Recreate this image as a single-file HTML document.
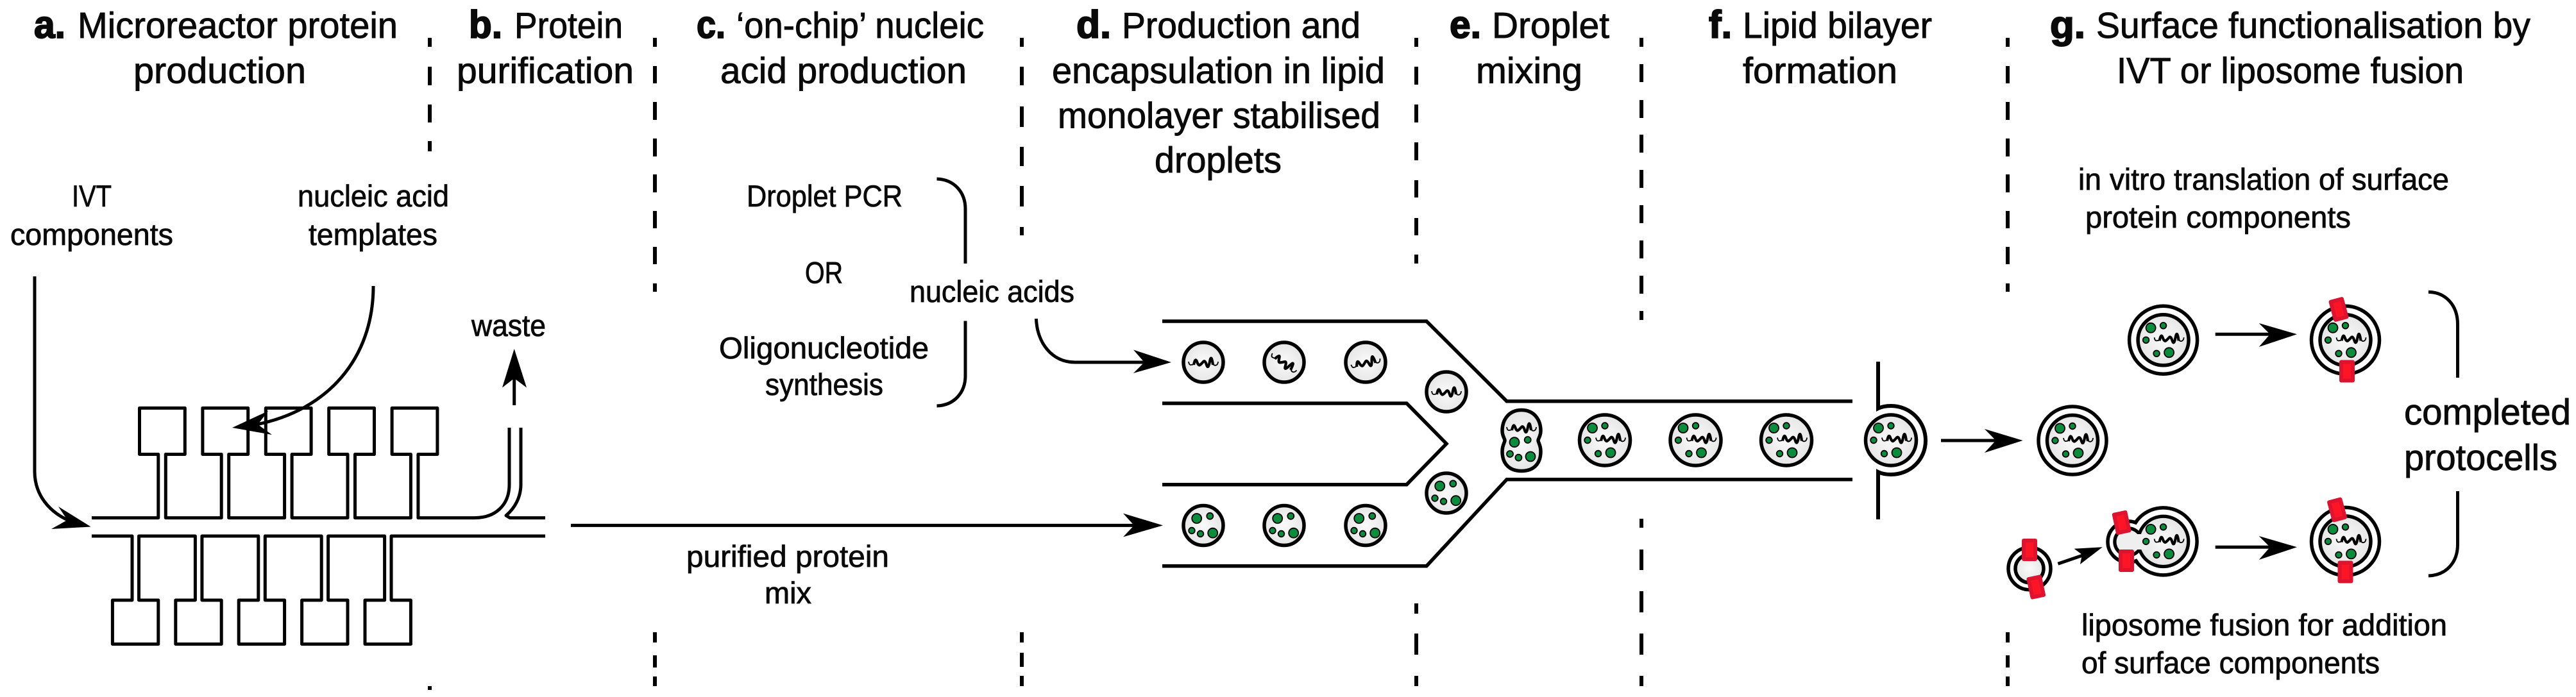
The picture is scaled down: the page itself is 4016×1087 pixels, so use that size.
<!DOCTYPE html>
<html>
<head>
<meta charset="utf-8">
<title>Protocell production workflow</title>
<style>
html,body{margin:0;padding:0;background:#fff;width:4016px;height:1087px;overflow:hidden}
svg{display:block}
text{font-family:"Liberation Sans",sans-serif;fill:#0a0a0a;stroke:#0a0a0a;stroke-width:.9}
.t{font-size:57px}
.b{font-size:60px;font-weight:bold;stroke-width:2}
.s{font-size:47px;stroke-width:.8}
.l{fill:none;stroke:#000;stroke-width:5.5;stroke-linejoin:miter}
.m{fill:none;stroke:#000;stroke-width:5;stroke-linejoin:round}
.a{fill:none;stroke:#000;stroke-width:5}
.d{fill:url(#g);stroke:#000;stroke-width:5.5}
.e{fill:#fff;stroke:#000;stroke-width:5.5}
.h{fill:#000;stroke:none}
.p{fill:#0a8c3c;stroke:#000;stroke-width:1.8}
.w{fill:none;stroke:#000;stroke-width:4.2}
.x{fill:none;stroke:#000;stroke-width:1.8}
.r{fill:#fd1525;stroke:#dc1430;stroke-width:6;stroke-linejoin:round}
</style>
</head>
<body>
<svg xmlns="http://www.w3.org/2000/svg" width="4016" height="1087" viewBox="0 0 4016 1087">
<defs>
<radialGradient id="g" cx="50%" cy="50%" r="50%">
<stop offset="0" stop-color="#fafafa"/><stop offset="1" stop-color="#e6e6e6"/>
</radialGradient>
<g id="wave"><path class="w" d="M-15,4 q2.5,-12 5,-5 t5,5 t5,-5 t5,5 t5,-5 t5,5"/><path class="x" d="M-23,-1 q1,6 4,5 q2,0 4,-1 M15,3 q3,3 6,1 q2,-2 2,-5"/></g>
<g id="dots">
<circle class="p" cx="-10.3" cy="-11" r="7.5"/><circle class="p" cx="10.3" cy="-14.7" r="5"/>
<circle class="p" cx="-18" cy="8" r="4.8"/><circle class="p" cx="-4.5" cy="13" r="4.8"/>
<circle class="p" cx="14.7" cy="11.7" r="7.5"/>
</g>
<g id="big">
<circle class="p" cx="-19.5" cy="-19" r="7.5"/><circle class="p" cx="0" cy="-22.5" r="4.8"/>
<circle class="p" cx="-27" cy="0" r="4.8"/><circle class="p" cx="-10.5" cy="21" r="4.8"/>
<circle class="p" cx="9" cy="19.5" r="7.5"/>
<use href="#wave" x="9" y="-3"/>
</g>
<g id="droplet"><circle class="d" r="39.5"/><use href="#big"/></g>
<g id="vesicle"><circle class="e" r="53"/><use href="#droplet"/></g>
</defs>

<!-- divider dashes -->
<path stroke="#000" stroke-width="6" fill="none" d="
M670,59V73M670,104V133M670,163V191M670,220V236M670,1070V1076
M1021,59V73M1021,103V130M1021,159V187M1021,216V244M1021,272V300M1021,329V356M1021,385V412M1021,442V455M1021,986V1002M1021,1022V1041M1021,1055V1070
M1593,59V73M1593,104V133M1593,166V198M1593,229V259M1593,290V322M1593,354V367M1593,986V1002M1593,1018V1040M1593,1054V1070
M2208,59V73M2208,104V132M2208,163V191M2208,222V250M2208,281V308M2208,340V367M2208,397V411M2208,941V957M2208,988V1021M2208,1054V1070
M2559,59V73M2559,100V128M2559,156V184M2559,210V238M2559,265V293M2559,320V348M2559,375V403M2559,430V458M2559,485V499M2559,809V823M2559,857V889M2559,922V955M2559,988V1021M2559,1054V1070
M3130,59V73M3130,103V130M3130,159V187M3130,216V244M3130,272V300M3130,329V356M3130,385V412M3130,442V455M3130,986V1002M3130,1022V1041M3130,1055V1070"/>

<!-- titles -->
<text class="b" x="53" y="59" textLength="49" lengthAdjust="spacingAndGlyphs">a.</text>
<text class="t" x="121" y="59" textLength="499" lengthAdjust="spacingAndGlyphs">Microreactor protein</text>
<text class="t" x="208" y="129.5" textLength="269" lengthAdjust="spacingAndGlyphs">production</text>
<text class="b" x="731" y="59" textLength="52" lengthAdjust="spacingAndGlyphs">b.</text>
<text class="t" x="802" y="59" textLength="169" lengthAdjust="spacingAndGlyphs">Protein</text>
<text class="t" x="712" y="129.5" textLength="276" lengthAdjust="spacingAndGlyphs">purification</text>
<text class="b" x="1086" y="59" textLength="45" lengthAdjust="spacingAndGlyphs">c.</text>
<text class="t" x="1148" y="59" textLength="386" lengthAdjust="spacingAndGlyphs">‘on-chip’ nucleic</text>
<text class="t" x="1123" y="129.5" textLength="384" lengthAdjust="spacingAndGlyphs">acid production</text>
<text class="b" x="1678" y="59" textLength="54" lengthAdjust="spacingAndGlyphs">d.</text>
<text class="t" x="1749" y="59" textLength="372" lengthAdjust="spacingAndGlyphs">Production and</text>
<text class="t" x="1640" y="129.5" textLength="519" lengthAdjust="spacingAndGlyphs">encapsulation in lipid</text>
<text class="t" x="1649" y="199.5" textLength="503" lengthAdjust="spacingAndGlyphs">monolayer stabilised</text>
<text class="t" x="1800" y="269" textLength="198" lengthAdjust="spacingAndGlyphs">droplets</text>
<text class="b" x="2260" y="59" textLength="49" lengthAdjust="spacingAndGlyphs">e.</text>
<text class="t" x="2326" y="59" textLength="183" lengthAdjust="spacingAndGlyphs">Droplet</text>
<text class="t" x="2301" y="129.5" textLength="166" lengthAdjust="spacingAndGlyphs">mixing</text>
<text class="b" x="2664" y="59" textLength="36" lengthAdjust="spacingAndGlyphs">f.</text>
<text class="t" x="2717" y="59" textLength="295" lengthAdjust="spacingAndGlyphs">Lipid bilayer</text>
<text class="t" x="2717" y="129.5" textLength="241" lengthAdjust="spacingAndGlyphs">formation</text>
<text class="b" x="3196" y="59" textLength="55" lengthAdjust="spacingAndGlyphs">g.</text>
<text class="t" x="3268" y="59" textLength="677" lengthAdjust="spacingAndGlyphs">Surface functionalisation by</text>
<text class="t" x="3300" y="129.5" textLength="541" lengthAdjust="spacingAndGlyphs">IVT or liposome fusion</text>

<!-- labels -->
<text class="s" x="112" y="322" textLength="62" lengthAdjust="spacingAndGlyphs">IVT</text>
<text class="s" x="16" y="382" textLength="254" lengthAdjust="spacingAndGlyphs">components</text>
<text class="s" x="464" y="322" textLength="236" lengthAdjust="spacingAndGlyphs">nucleic acid</text>
<text class="s" x="481" y="382" textLength="201" lengthAdjust="spacingAndGlyphs">templates</text>
<text class="s" x="735" y="524" textLength="116" lengthAdjust="spacingAndGlyphs">waste</text>
<text class="s" x="1164" y="322" textLength="243" lengthAdjust="spacingAndGlyphs">Droplet PCR</text>
<text class="s" x="1255" y="441.5" textLength="59" lengthAdjust="spacingAndGlyphs">OR</text>
<text class="s" x="1418" y="471" textLength="257" lengthAdjust="spacingAndGlyphs">nucleic acids</text>
<text class="s" x="1121" y="559" textLength="327" lengthAdjust="spacingAndGlyphs">Oligonucleotide</text>
<text class="s" x="1193" y="616" textLength="184" lengthAdjust="spacingAndGlyphs">synthesis</text>
<text class="s" x="1070" y="884" textLength="316" lengthAdjust="spacingAndGlyphs">purified protein</text>
<text class="s" x="1192" y="941" textLength="73" lengthAdjust="spacingAndGlyphs">mix</text>
<text class="s" x="3240" y="296" textLength="578" lengthAdjust="spacingAndGlyphs">in vitro translation of surface</text>
<text class="s" x="3251" y="355" textLength="414" lengthAdjust="spacingAndGlyphs">protein components</text>
<text class="t" x="3748" y="662" textLength="260" lengthAdjust="spacingAndGlyphs">completed</text>
<text class="t" x="3748" y="733" textLength="239" lengthAdjust="spacingAndGlyphs">protocells</text>
<text class="s" x="3245" y="991" textLength="570" lengthAdjust="spacingAndGlyphs">liposome fusion for addition</text>
<text class="s" x="3245" y="1050" textLength="465" lengthAdjust="spacingAndGlyphs">of surface components</text>

<!-- microreactor -->
<path class="m" d="M143,807.6H246.8V708.5H217.5V636.4H288.3V708.5H258.3V807.6
H345.2V708.5H315.9V636.4H386.7V708.5H356.7V807.6
H443.6V708.5H414.3V636.4H485.1V708.5H455.1V807.6
H542V708.5H512.7V636.4H583.5V708.5H553.5V807.6
H640.4V708.5H611.1V636.4H681.9V708.5H651.9V807.6
H740C772,807.6 794,788 794,755.6V667"/>
<path class="m" d="M812,667V755.6C812,775 803,792 789,804L795,807.6H850"/>
<path class="m" d="M143,836H206V936H175.4V1004.5H246.8V936H216.5V836
H304.4V936H273.8V1004.5H345.2V936H314.9V836
H402.8V936H372.2V1004.5H443.6V936H413.3V836
H501.2V936H470.6V1004.5H542V936H511.6V836
H599.6V936H569V1004.5H640.4V936H610V836H850"/>

<!-- microreactor arrows -->
<path class="a" d="M54,431V735C54,770 75,800 115,815"/>
<path class="h" d="M141.6,821.5L91,790L105,811L80,825Z"/>
<path class="a" d="M582,446C582,560 510,640 400,662"/>
<path class="h" d="M362,667L418,641L402,662L424,678Z"/>
<path class="a" d="M801.7,632V585"/>
<path class="h" d="M801.7,544L783,604.5L801.7,590L821,604.5Z"/>

<!-- input arrows and brace -->
<path class="a" d="M890,819.4H1770"/>
<path class="h" d="M1813,819.4L1751,800.6L1768,819.4L1751,837.4Z"/>
<path class="a" d="M1615.4,497C1617,535 1640,565 1676,565H1786"/>
<path class="h" d="M1826,565L1767,545.5L1784,565L1767,582Z"/>
<path class="a" d="M1460.5,279C1488,280 1505,300 1505,326V411M1505,500.5V586C1505,612 1488,632 1460.5,633"/>

<!-- droplet channel -->
<path class="l" d="M1812,501H2224L2349,625.7H2888"/>
<path class="l" d="M1812,629H2193L2255,692L2193,755.7H1812"/>
<path class="l" d="M1812,882.7H2224L2349,747.7H2888"/>

<!-- nucleic acid droplets -->
<g transform="translate(1876,565)"><circle class="d" r="31"/><use href="#wave"/></g>
<g transform="translate(2002,565)"><circle class="d" r="31"/><use href="#wave" transform="rotate(35)"/></g>
<g transform="translate(2129,565)"><circle class="d" r="31"/><use href="#wave" transform="rotate(-12)"/></g>
<g transform="translate(2255,611)"><circle class="d" r="31"/><use href="#wave"/></g>
<!-- protein droplets -->
<g transform="translate(1876,819.5)"><circle class="d" r="31"/><use href="#dots"/></g>
<g transform="translate(2002,819.5)"><circle class="d" r="31"/><use href="#dots"/></g>
<g transform="translate(2129,819.5)"><circle class="d" r="31"/><use href="#dots"/></g>
<g transform="translate(2255,769)"><circle class="d" r="31"/><use href="#dots"/></g>

<!-- fused droplet -->
<path class="d" d="M2372,639.5C2392,639.5 2402,655 2402,672C2402,680 2398,684 2398,687C2398,690 2402,694 2402,704C2402,722 2392,734.5 2372,734.5C2352,734.5 2342,722 2342,704C2342,694 2346,690 2346,687C2346,684 2342,680 2342,672C2342,655 2352,639.5 2372,639.5Z"/>
<use href="#wave" x="2372" y="667"/>
<circle class="p" cx="2361" cy="689.7" r="7.5"/><circle class="p" cx="2381.7" cy="686" r="5"/>
<circle class="p" cx="2354" cy="708" r="5"/><circle class="p" cx="2367.4" cy="713.7" r="5"/>
<circle class="p" cx="2386" cy="712" r="7.5"/>

<!-- mixed droplets -->
<use href="#droplet" x="2502" y="686.5"/>
<use href="#droplet" x="2643.5" y="686.5"/>
<use href="#droplet" x="2785" y="686.5"/>

<!-- bilayer exit -->
<path class="a" style="stroke-width:6" d="M2928,564V637C2934,634 2941,633 2948,633C2978,633 3002,657 3002,687C3002,717 2978,740 2948,740C2941,740 2934,739 2928,736V810"/>
<use href="#droplet" x="2948" y="686.5"/>
<path class="a" d="M3026,687H3115"/>
<path class="h" d="M3153.6,687L3094,669L3111.5,687L3094,706Z"/>
<use href="#vesicle" x="3231" y="687"/>

<!-- top IVT path -->
<use href="#vesicle" x="3372.6" y="530.3"/>
<path class="a" d="M3453.7,521.3H3545"/>
<path class="h" d="M3581,521.3L3521.7,504L3539,521.3L3521.7,541Z"/>
<use href="#vesicle" x="3656.5" y="530.3"/>
<rect class="r" x="3637" y="468" width="18" height="29" transform="rotate(-15 3646 482.5)"/>
<rect class="r" x="3650" y="564.5" width="18" height="29"/>

<!-- liposome fusion path -->
<circle class="e" cx="3164" cy="886.7" r="33"/>
<circle class="d" cx="3164" cy="886.7" r="22"/>
<rect class="r" x="3155" y="843" width="18" height="29"/>
<rect class="r" x="3165.3" y="901" width="18" height="29" transform="rotate(-12 3174.3 915.7)"/>
<path class="a" d="M3208.4,879.3L3250,865"/>
<path class="h" d="M3277.8,853.3L3233.6,855.7L3246,865L3242.9,880Z"/>

<!-- fused vesicle -->
<circle class="e" cx="3372.6" cy="844.4" r="52.5"/>
<circle class="e" cx="3318" cy="845" r="32"/>
<circle cx="3372.6" cy="844.4" r="49.5" fill="#fff"/>
<circle cx="3318" cy="845" r="29" fill="#fff"/>
<rect x="3326" y="822" width="20" height="46" fill="#fff"/>
<circle class="e" cx="3372.6" cy="844.4" r="39"/>
<circle class="e" cx="3318" cy="845" r="21"/>
<circle cx="3372.6" cy="844.4" r="36.5" fill="url(#g)"/>
<circle cx="3318" cy="845" r="18.5" fill="#efefef"/>
<rect x="3326" y="833" width="20" height="24" fill="#efefef"/>
<use href="#big" x="3372.6" y="844.4"/>
<rect class="r" x="3298.7" y="800.5" width="18" height="29" transform="rotate(-12 3307.7 815.3)"/>
<rect class="r" x="3306" y="860" width="18" height="29"/>

<path class="a" d="M3453.7,853.3H3545"/>
<path class="h" d="M3581,853.3L3521.7,836L3539,853.3L3521.7,873Z"/>
<use href="#vesicle" x="3656.5" y="844.4"/>
<rect class="r" x="3634.5" y="780.5" width="18" height="29" transform="rotate(-15 3643.5 795)"/>
<rect class="r" x="3647.5" y="877.5" width="18" height="29"/>

<!-- right brace -->
<path class="a" d="M3786,455.4C3813,456 3831.5,476 3831.5,506V589M3831.5,766V849C3831.5,878 3813,897 3786,898"/>
</svg>
</body>
</html>
